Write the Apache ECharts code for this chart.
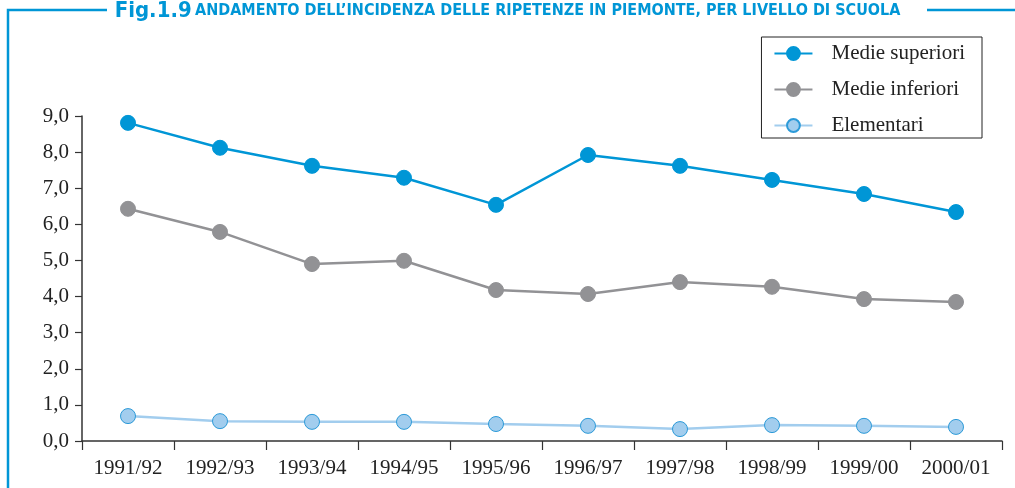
<!DOCTYPE html>
<html>
<head>
<meta charset="utf-8">
<script src="https://cdn.jsdelivr.net/npm/echarts@6/dist/echarts.min.js"></script>
<style>
  html, body { margin: 0; padding: 0; background: #fff; }
  #chart { width: 1015px; height: 488px; }
</style>
</head>
<body>
<div id="chart"></div>
<script>
var anni = ['1991/92', '1992/93', '1993/94', '1994/95', '1995/96', '1996/97', '1997/98', '1998/99', '1999/00', '2000/01'];
var medieSuperiori = [8.81, 8.12, 7.62, 7.29, 6.54, 7.92, 7.62, 7.23, 6.84, 6.34];
var medieInferiori = [6.43, 5.79, 4.90, 4.99, 4.18, 4.07, 4.40, 4.27, 3.93, 3.85];
var elementari = [0.69, 0.55, 0.53, 0.53, 0.47, 0.42, 0.33, 0.44, 0.42, 0.39];

var blu = '#0096d6';
var grigio = '#929295';
var celeste = '#a2cdee';
var serif = '"Liberation Serif", "DejaVu Serif", serif';
var cond = '"DejaVu Sans Condensed", "DejaVu Sans", sans-serif';

var chart = echarts.init(document.getElementById('chart'));

function serie(nome, dati, colore, bordo) {
  return {
    name: nome,
    type: 'line',
    data: dati,
    symbol: 'circle',
    symbolSize: 15,
    lineStyle: { color: colore, width: 2.5 },
    itemStyle: { color: colore, borderColor: bordo, borderWidth: 1 },
    emphasis: { disabled: true },
    animation: false
  };
}

chart.setOption({
  backgroundColor: '#fff',
  animation: false,
  graphic: [
    { type: 'polyline', shape: { points: [[8, 488], [8, 10], [107, 10]] }, style: { stroke: blu, lineWidth: 2.5, fill: null } },
    { type: 'line', shape: { x1: 927, y1: 10, x2: 1015, y2: 10 }, style: { stroke: blu, lineWidth: 2.5 } },
    {
      type: 'text', left: 'center', top: 0,
      style: {
        rich: {
          f: { fontFamily: cond, fontWeight: 'bold', fontSize: 22, fill: blu },
          t: { fontFamily: cond, fontWeight: 'bold', fontSize: 16, fill: blu }
        },
        text: '{f|Fig.1.9} {t|ANDAMENTO DELL\u2019INCIDENZA DELLE RIPETENZE IN PIEMONTE, PER LIVELLO DI SCUOLA}'
      }
    }
  ],
  legend: {
    right: 33, top: 37,
    orient: 'vertical',
    itemWidth: 38, itemHeight: 16, itemGap: 15,
    padding: [6, 17, 2, 12],
    borderColor: '#222', borderWidth: 1,
    textStyle: { fontFamily: serif, fontSize: 21, lineHeight: 18, color: '#222', padding: [0, 0, 0, 14] },
    data: ['Medie superiori', 'Medie inferiori', 'Elementari']
  },
  grid: { left: 82, right: 13, top: 116, bottom: 47 },
  xAxis: {
    type: 'category',
    data: anni,
    boundaryGap: true,
    axisLine: { lineStyle: { color: '#333', width: 1.5 } },
    axisTick: { show: true, length: 9, lineStyle: { color: '#333', width: 1.2 } },
    axisLabel: { fontFamily: serif, fontSize: 21, color: '#222', margin: 17 }
  },
  yAxis: {
    type: 'value',
    min: 0, max: 9, interval: 1,
    axisLine: { show: true, lineStyle: { color: '#333', width: 1.5 } },
    axisTick: { show: true, length: 7, inside: false, lineStyle: { color: '#333', width: 1.2 } },
    splitLine: { show: false },
    axisLabel: {
      fontFamily: serif, fontSize: 21, color: '#222', margin: 13,
      formatter: function (v) { return v.toFixed(1).replace('.', ','); }
    }
  },
  series: [
    serie('Medie superiori', medieSuperiori, blu, blu),
    serie('Medie inferiori', medieInferiori, grigio, grigio),
    serie('Elementari', elementari, celeste, '#2c9ad8')
  ]
});
</script>
</body>
</html>
